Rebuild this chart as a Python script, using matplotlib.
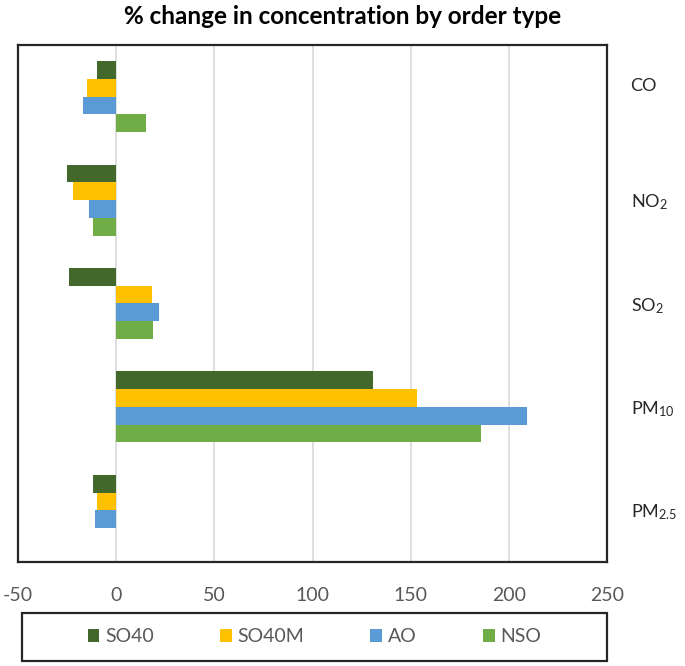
import matplotlib
matplotlib.use("Agg")
import matplotlib.pyplot as plt
import matplotlib.transforms as mtransforms
import numpy as np

# valores (% de cambio)
pollutants = ["CO", "NO$_2$", "SO$_2$", "PM$_{10}$", "PM$_{2.5}$"]
series_names = ["SO40", "SO40M", "AO", "NSO"]
so40 = [-10, -25, -24, 131, -12]
so40m = [-15, -22, 18, 153, -10]
ao = [-17, -14, 22, 209, -11]
nso = [15, -12, 19, 186, 0]
colors = ["#43682B", "#FFC000", "#5B9BD5", "#70AD47"]

plt.rcParams["font.family"] = ["Lato", "DejaVu Sans"]
plt.rcParams["mathtext.fontset"] = "custom"
plt.rcParams["mathtext.rm"] = "Lato"
plt.rcParams["mathtext.it"] = "Lato:italic"
plt.rcParams["mathtext.bf"] = "Lato:bold"
plt.rcParams["axes.unicode_minus"] = False

fig = plt.figure(figsize=(6.85, 6.66), dpi=100)
ax = fig.add_axes([18 / 685, 1 - 562 / 666, 589 / 685, 517 / 666])

y = np.arange(len(pollutants))
h = 0.172
for i, (vals, name, c) in enumerate(zip([so40, so40m, ao, nso], series_names, colors)):
    ax.barh(y + (i - 1.5) * h, vals, height=h, color=c, label=name, zorder=3)

ax.set_xlim(-50, 250)
ax.set_ylim(len(pollutants) - 0.5, -0.5)
ax.set_xticks(np.arange(-50, 251, 50))
ax.grid(axis="x", color="#D9D9D9", linewidth=1.2, zorder=0)
ax.tick_params(axis="x", length=0, pad=18, labelsize=14, labelcolor="#595959")

ax.yaxis.tick_right()
ax.set_yticks(y)
ax.set_yticklabels(pollutants)
ax.tick_params(axis="y", length=0, pad=17, labelsize=13, labelcolor="#262626")
# la etiqueta CO esta un poco mas arriba en el original
lbl = ax.get_yticklabels()[0]
lbl.set_transform(lbl.get_transform() +
                  mtransforms.ScaledTranslation(0, 12 / 100, fig.dpi_scale_trans))

for s in ax.spines.values():
    s.set_color("#262626")
    s.set_linewidth(1.6)

fig.suptitle("% change in concentration by order type", x=0.5, y=0.992,
             fontsize=17.5, fontweight="bold")

leg = fig.legend(loc="center", ncol=4,
                 bbox_to_anchor=(22 / 685, 1 - 661 / 666, 585 / 685, 48 / 666),
                 frameon=False, fontsize=14,
                 handlelength=0.6, handleheight=0.6, handletextpad=0.3,
                 columnspacing=3.4)
for t in leg.get_texts():
    t.set_color("#595959")
# recuadro de la leyenda
box = plt.Rectangle((22 / 685, 1 - 661 / 666), 585 / 685, 48 / 666,
                    transform=fig.transFigure, fill=False,
                    edgecolor="#262626", linewidth=1.6)
fig.add_artist(box)

fig.savefig("out.png", dpi=100)
